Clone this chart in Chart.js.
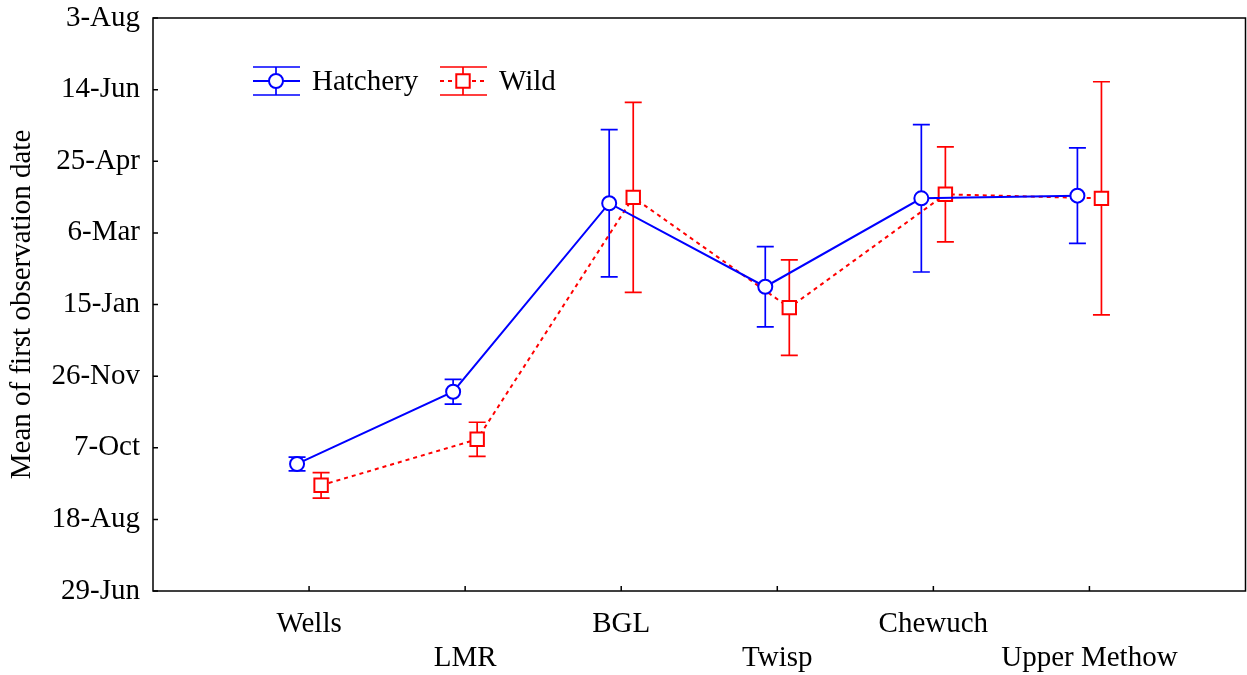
<!DOCTYPE html>
<html>
<head>
<meta charset="utf-8">
<script src="https://cdn.jsdelivr.net/npm/chart.js@4/dist/chart.umd.min.js"></script>
<style>
  html, body { margin: 0; padding: 0; background: #fff; overflow: hidden; }
  #wrap { width: 1247px; height: 675px; overflow: hidden; }
  canvas { display: block; }
</style>
</head>
<body>
<div id="wrap"><canvas id="chart" width="1257" height="675"></canvas></div>
<script>
// ====== DATA ======
const sites     = ['Wells', 'LMR', 'BGL', 'Twisp', 'Chewuch', 'Upper Methow'];
const dateTicks = ['29-Jun', '18-Aug', '7-Oct', '26-Nov', '15-Jan', '6-Mar', '25-Apr', '14-Jun', '3-Aug']; // 50 days apart
// values are days after 29-Jun
const hatcheryMean = [88.7, 139.1, 270.7, 212.4, 274.1, 276.0];
const hatcheryErr  = [4.8, 8.6, 51.4, 28.0, 51.4, 33.3];
const wildMean     = [73.8, 105.9, 274.8, 197.8, 276.9, 274.1];
const wildErr      = [8.9, 11.9, 66.3, 33.3, 33.2, 81.4];

const SHIFT = 0.077;   // side-by-side offset of the two groups
const BLUE = '#0000ff', RED = '#ff0000';
const FONT = "'Liberation Serif', 'Times New Roman', serif";

Chart.defaults.font.family = FONT;
Chart.defaults.font.size = 29;
Chart.defaults.color = '#000';

// ====== PLUGINS ======
const errorBars = {
  id: 'errorBars',
  beforeDatasetsDraw(chart) {
    const { ctx } = chart;
    const y = chart.scales.y;
    chart.data.datasets.forEach((ds, di) => {
      const meta = chart.getDatasetMeta(di);
      ctx.save();
      ctx.strokeStyle = ds.borderColor;
      ctx.lineWidth = 1.7;
      meta.data.forEach((pt, i) => {
        const v = ds.data[i].y, e = ds.errors[i];
        const top = y.getPixelForValue(v + e), bot = y.getPixelForValue(v - e);
        ctx.beginPath();
        ctx.moveTo(pt.x, top); ctx.lineTo(pt.x, bot);
        ctx.moveTo(pt.x - 8.5, top); ctx.lineTo(pt.x + 8.5, top);
        ctx.moveTo(pt.x - 8.5, bot); ctx.lineTo(pt.x + 8.5, bot);
        ctx.stroke();
      });
      ctx.restore();
    });
  }
};

const frame = {
  id: 'frame',
  afterDraw(chart) {
    const { ctx, chartArea: a } = chart;
    const xs = chart.scales.x, ys = chart.scales.y;
    ctx.save();
    ctx.strokeStyle = '#000';
    ctx.lineWidth = 1.5;
    ctx.strokeRect(a.left, a.top, a.right - a.left, a.bottom - a.top);
    ctx.beginPath();
    dateTicks.forEach((_, i) => {
      const py = ys.getPixelForValue(i * 50);
      ctx.moveTo(a.left, py); ctx.lineTo(a.left + 5, py);
    });
    sites.forEach((_, i) => {
      const px = xs.getPixelForValue(i + 1);
      ctx.moveTo(px, a.bottom); ctx.lineTo(px, a.bottom - 5);
    });
    ctx.stroke();
    ctx.restore();
  }
};

const legendBox = {
  id: 'legendBox',
  afterDraw(chart) {
    const { ctx } = chart;
    const items = [
      { x: 253, ds: chart.data.datasets[0] },
      { x: 440, ds: chart.data.datasets[1] }
    ];
    const cy = 81;
    items.forEach(it => {
      const ds = it.ds, mid = it.x + 23;
      ctx.save();
      ctx.strokeStyle = ds.borderColor;
      ctx.lineWidth = 2;
      ctx.setLineDash(ds.borderDash || []);
      ctx.beginPath(); ctx.moveTo(it.x, cy); ctx.lineTo(it.x + 47, cy); ctx.stroke();
      ctx.setLineDash([]);
      ctx.lineWidth = 1.7;
      ctx.beginPath();
      ctx.moveTo(mid, cy - 14); ctx.lineTo(mid, cy + 14);
      ctx.moveTo(it.x, cy - 14); ctx.lineTo(it.x + 47, cy - 14);
      ctx.moveTo(it.x, cy + 14); ctx.lineTo(it.x + 47, cy + 14);
      ctx.stroke();
      ctx.fillStyle = '#fff';
      ctx.lineWidth = 2;
      ctx.beginPath();
      if (ds.pointStyle === 'circle') ctx.arc(mid, cy, ds.pointRadius, 0, Math.PI * 2);
      else { const s = ds.pointRadius * Math.SQRT1_2; ctx.rect(mid - s, cy - s, 2 * s, 2 * s); }
      ctx.fill(); ctx.stroke();
      ctx.fillStyle = '#000';
      ctx.font = '29px ' + FONT;
      ctx.textBaseline = 'middle';
      ctx.fillText(ds.label, it.x + 59, cy + 1);
      ctx.restore();
    });
  }
};

// ====== CHART ======
new Chart(document.getElementById('chart'), {
  type: 'line',
  data: {
    datasets: [
      {
        label: 'Hatchery',
        data: hatcheryMean.map((v, i) => ({ x: i + 1 - SHIFT, y: v })),
        errors: hatcheryErr,
        borderColor: BLUE, backgroundColor: '#fff',
        borderWidth: 2, pointStyle: 'circle', pointRadius: 7,
        pointBorderWidth: 2, tension: 0
      },
      {
        label: 'Wild',
        data: wildMean.map((v, i) => ({ x: i + 1 + SHIFT, y: v })),
        errors: wildErr,
        borderColor: RED, backgroundColor: '#fff',
        borderWidth: 2, borderDash: [4, 4], pointStyle: 'rect', pointRadius: 9.5,
        pointBorderWidth: 2, tension: 0
      }
    ]
  },
  options: {
    responsive: false,
    animation: false,
    layout: { padding: { top: 18, right: 0, left: 0, bottom: 0 } },
    plugins: { legend: { display: false }, tooltip: { enabled: false } },
    scales: {
      x: {
        type: 'linear', min: 0, max: 7,
        grid: { display: false, tickLength: 16 }, border: { display: false },
        afterFit(s) { s.height = 84; s.paddingLeft = 0; s.paddingRight = 0; },
        ticks: {
          stepSize: 1, padding: 0, maxRotation: 0, autoSkip: false,
          font: { size: 29, lineHeight: 1.18 },
          callback(v) {
            const name = sites[v - 1];
            if (!name) return '';
            return (v - 1) % 2 === 0 ? [name, ''] : ['', name];
          }
        }
      },
      y: {
        min: 0, max: 400,
        grid: { display: false }, border: { display: false },
        afterFit(s) { s.width = 153; s.paddingTop = 0; s.paddingBottom = 0; },
        title: {
          display: true, text: 'Mean of first observation date',
          font: { size: 29 }, padding: { top: 5, bottom: 0 }
        },
        ticks: {
          stepSize: 50, padding: 5,
          callback(v) { return dateTicks[v / 50]; }
        }
      }
    }
  },
  plugins: [errorBars, frame, legendBox]
});
</script>
</body>
</html>
